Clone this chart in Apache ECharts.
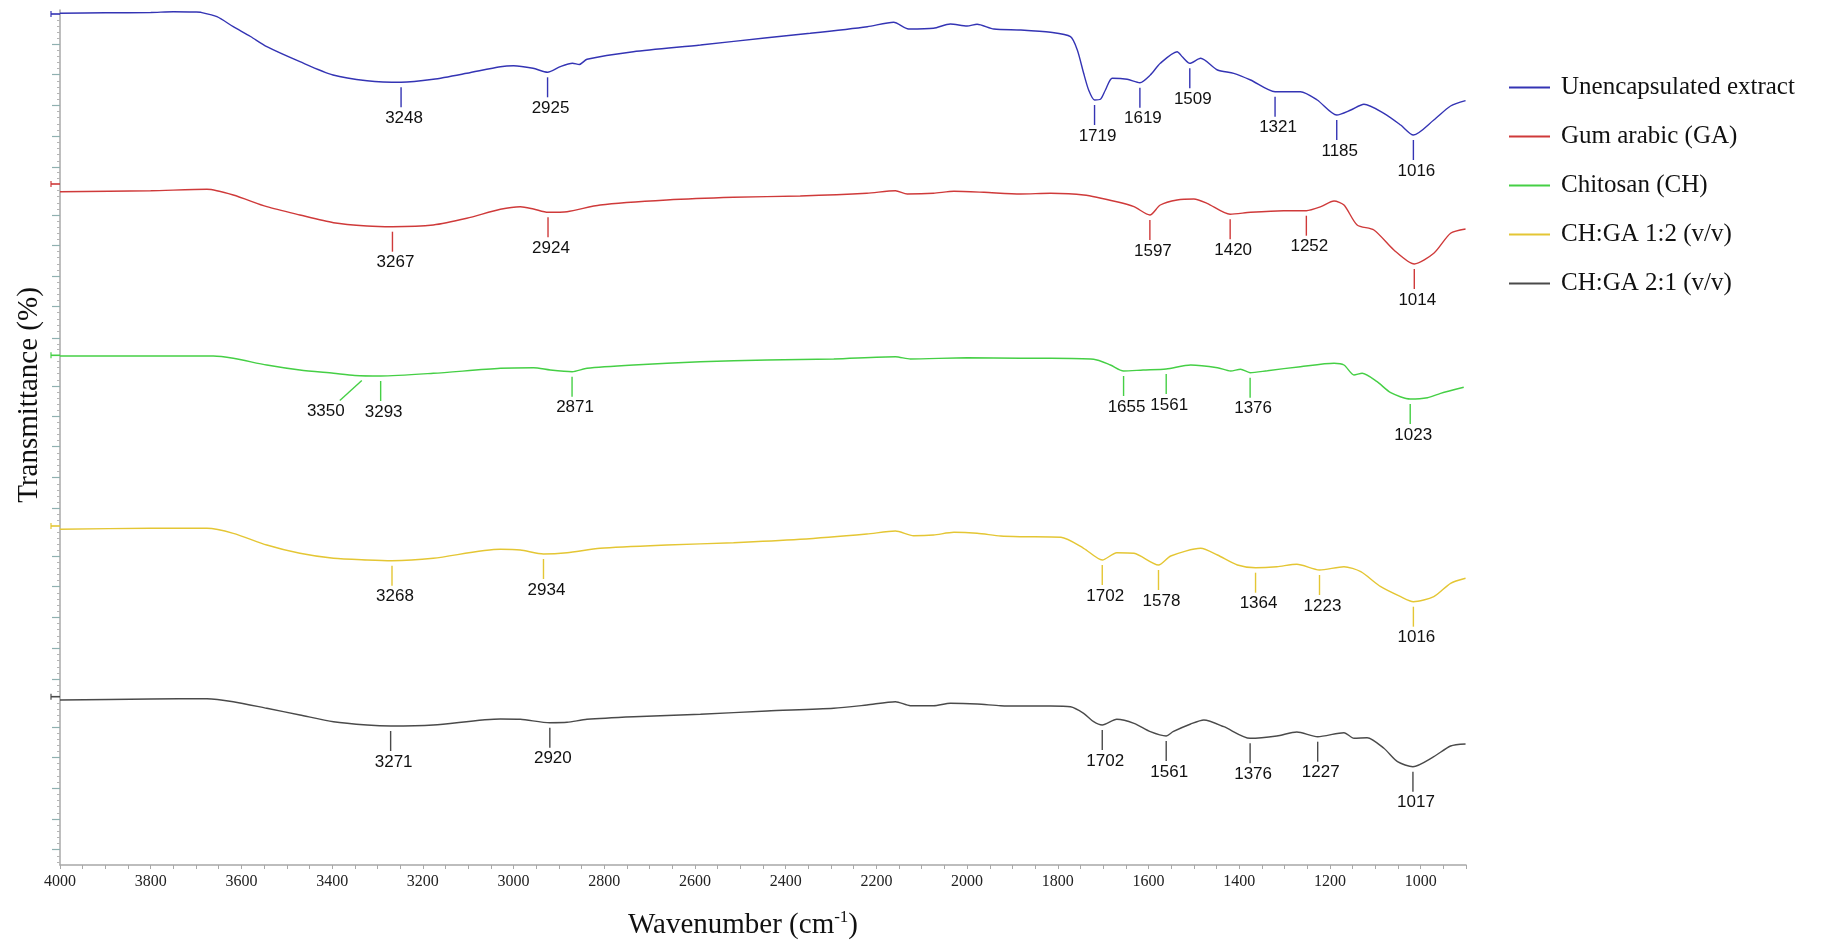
<!DOCTYPE html>
<html>
<head>
<meta charset="utf-8">
<script src="https://cdn.jsdelivr.net/npm/echarts@6/dist/echarts.min.js"></script>
<style>
html,body{margin:0;padding:0;background:#fff;}
#chart{width:1828px;height:944px;}
</style>
</head>
<body>
<div id="chart"></div>
<script>
// ---- Data (wavenumber cm-1, offset transmittance in stacked display units) ----
const seriesNames = ['Unencapsulated extract', 'Gum arabic (GA)', 'Chitosan (CH)', 'CH:GA 1:2 (v/v)', 'CH:GA 2:1 (v/v)'];
const seriesColors = ['#3434b4', '#cf3a3a', '#45cf45', '#e4c634', '#4a4a4a'];

const extractSpectrum = [[4000,851.7],[3900,852.2],[3800,852.5],[3750,853.3],[3700,853],[3690,852.7],[3654,848.3],[3618,838.3],[3580,828.5],[3544,818.3],[3471,803.3],[3398,790],[3323,784.3],[3248,782.7],[3177,785.7],[3103,791.7],[3029,798.3],[3000,799.3],[2957,796.7],[2925,792.7],[2897,798.3],[2870,801.7],[2855,800.5],[2838,805.7],[2736,813.3],[2588,820],[2441,827.3],[2346,831.7],[2220,838.3],[2162,842.7],[2129,836],[2074,836.7],[2037,841],[2000,839],[1978,840.7],[1941,836],[1882,835],[1816,832.7],[1772,828.3],[1757,815],[1743,791.7],[1732,775],[1719,765],[1706,765.7],[1695,775],[1680,786.7],[1647,785.7],[1619,782.3],[1596,790],[1574,801.7],[1537,813.3],[1525,808],[1509,801.7],[1485,806.7],[1448,795],[1412,791.7],[1375,785],[1321,773.3],[1265,773.3],[1228,765],[1185,750],[1154,755],[1125,760.7],[1081,751.7],[1044,740],[1016,730],[971,745],[934,759],[901,764.3]];
const gumArabicSpectrum = [[4000,673.3],[3800,674.3],[3676,675.7],[3618,670],[3544,658.3],[3471,650],[3397,642.3],[3323,639],[3267,638.3],[3177,640],[3103,646.7],[3029,655.7],[2985,658.3],[2956,656],[2924,652.7],[2882,653.3],[2809,660],[2662,665],[2515,667.7],[2368,669],[2221,671.7],[2158,674.3],[2132,671],[2074,671.7],[2029,673.7],[1963,672.7],[1882,671],[1816,671.7],[1743,670],[1670,663.3],[1632,658.3],[1597,650],[1574,660],[1537,665],[1500,666],[1471,661.7],[1420,650.7],[1375,652.7],[1302,654.3],[1252,654.3],[1220,658.3],[1191,664],[1169,660],[1140,640],[1103,635],[1059,615],[1014,601],[971,611.7],[934,631.7],[901,636]];
const chitosanSpectrum = [[4000,509],[3800,509],[3662,509],[3618,506.7],[3544,500],[3471,495],[3397,491.7],[3350,489.5],[3293,489],[3177,491.7],[3029,496.7],[2956,497.3],[2919,495],[2871,493.3],[2838,496.7],[2735,500],[2588,503.3],[2441,505],[2294,506],[2158,508.3],[2125,506],[2000,507.3],[1882,506.7],[1816,506.7],[1721,505.7],[1684,500],[1655,494],[1612,495],[1561,496],[1507,500],[1448,497.3],[1419,494],[1397,495.7],[1376,492.3],[1338,494.3],[1265,498.3],[1191,501.7],[1169,500],[1147,490],[1129,491.7],[1096,483.3],[1066,472.3],[1023,466],[985,467.3],[956,471.7],[905,477.7]];
const chga12Spectrum = [[4000,335.7],[3800,336.7],[3676,336.7],[3618,331.7],[3544,320],[3471,311.7],[3397,306.7],[3323,305],[3268,304.3],[3177,306.7],[3029,315.7],[2985,315],[2934,311],[2882,312.3],[2809,316.7],[2662,320],[2515,322.3],[2368,325.7],[2221,331],[2158,334],[2118,329.3],[2074,330],[2029,332.7],[1978,331.7],[1926,329],[1882,328.3],[1793,327.7],[1743,316.7],[1702,305],[1670,312.3],[1632,311.7],[1578,300],[1551,309],[1485,316.7],[1448,310],[1404,300],[1364,297.3],[1317,298.3],[1273,300.7],[1223,295],[1169,298.3],[1132,293.3],[1088,278.3],[1044,268.3],[1016,263.3],[971,268.3],[934,281.7],[901,286.7]];
const chga21Spectrum = [[4000,165],[3800,166],[3676,166.3],[3618,163.3],[3544,156.7],[3471,150],[3397,143.3],[3323,140],[3271,139],[3177,140],[3029,146],[2985,145.7],[2920,142.3],[2882,142.7],[2838,145.7],[2735,148.3],[2588,150.7],[2441,154],[2294,156.7],[2221,160],[2158,163.3],[2125,159.3],[2074,159.3],[2037,161.7],[1978,161],[1926,159.3],[1882,159],[1816,159],[1772,158.3],[1743,151.7],[1721,143.3],[1702,140],[1670,145.7],[1632,141.7],[1596,133.3],[1561,129],[1546,133.3],[1507,141],[1478,145],[1434,138.3],[1376,126.7],[1317,129],[1273,133],[1227,128.3],[1169,132.3],[1147,126.7],[1118,127.3],[1081,116.7],[1051,103.3],[1017,98.3],[971,108.3],[934,119],[901,121]];

// Annotated peaks (wavenumbers)
const extractPeaks = [3248, 2925, 1719, 1619, 1509, 1321, 1185, 1016];
const gumArabicPeaks = [3267, 2924, 1597, 1420, 1252, 1014];
const chitosanPeaks = [3350, 3293, 2871, 1655, 1561, 1376, 1023];
const chga12Peaks = [3268, 2934, 1702, 1578, 1364, 1223, 1016];
const chga21Peaks = [3271, 2920, 1702, 1561, 1376, 1227, 1017];

// y-axis tick positions (stacked display units) and per-spectrum baseline markers
const yMajorTicks = [820.7, 790.3, 759.7, 728.7, 698, 649.7, 619.7, 588.7, 559, 527, 479, 449, 418.3, 387.3, 356.3, 308.3, 278.3, 247.7, 216.7, 185.7, 137.3, 107.7, 76.7, 46, 15.3];
const baselineMarkers = [851, 681, 509.7, 339, 168.3];
const xLabelValues = [1000, 1200, 1400, 1600, 1800, 2000, 2200, 2400, 2600, 2800, 3000, 3200, 3400, 3600, 3800, 4000];

// ---- Layout (not data) ----
const labelShift = { 'Chitosan (CH)': { 3350: -32 } };

const spectra = [extractSpectrum, gumArabicSpectrum, chitosanSpectrum, chga12Spectrum, chga21Spectrum];
const peaks = [extractPeaks, gumArabicPeaks, chitosanPeaks, chga12Peaks, chga21Peaks];

// minor ticks: subdivisions between consecutive major ticks
const allMajor = yMajorTicks.concat(baselineMarkers).sort((a, b) => a - b);
const yMinorTicks = [];
for (let i = 0; i < allMajor.length - 1; i++) {
  const a = allMajor[i], b = allMajor[i + 1];
  const n = Math.max(1, Math.round((b - a) / 6.1));
  for (let k = 1; k < n; k++) yMinorTicks.push(a + (b - a) * k / n);
}
{
  const a = allMajor[0];
  for (let k = 1; a - k * 6.1 > 1; k++) yMinorTicks.push(a - k * 6.1);
}

const series = [];
seriesNames.forEach((name, i) => {
  series.push({
    name: name,
    type: 'line',
    data: spectra[i],
    showSymbol: false,
    symbol: 'none',
    smooth: 0.25,
    lineStyle: { color: seriesColors[i], width: 1.4 },
    itemStyle: { color: seriesColors[i] },
    z: 3,
    silent: true
  });
  const lookup = {};
  spectra[i].forEach(p => { lookup[p[0]] = p[1]; });
  const shift = labelShift[name] || {};
  series.push({
    name: name + ' peaks',
    type: 'custom',
    coordinateSystem: 'cartesian2d',
    clip: false,
    silent: true,
    z: 4,
    data: peaks[i].map(w => [w, lookup[w]]),
    encode: { x: 0, y: 1 },
    renderItem: function (params, api) {
      const w = api.value(0);
      const p = api.coord([w, api.value(1)]);
      const dx = shift[w] || 0;
      const x1 = dx ? p[0] + 7 : p[0];
      const x2 = dx ? p[0] + dx + 17 : p[0];
      return {
        type: 'group',
        children: [
          { type: 'line', shape: { x1: x1, y1: p[1] + 5, x2: x2, y2: p[1] + 25 },
            style: { stroke: seriesColors[i], lineWidth: 1.4 } },
          { type: 'text', x: p[0] + dx + 3, y: p[1] + 36,
            style: { text: String(w), fill: '#111', font: '17px "Liberation Sans", Arial, sans-serif',
                     align: 'center', verticalAlign: 'middle' } }
        ]
      };
    }
  });
});

// coloured baseline markers on the y axis
series.push({
  name: 'baseline markers',
  type: 'custom',
  coordinateSystem: 'cartesian2d',
  clip: false,
  silent: true,
  data: baselineMarkers.map(v => [4000, v]),
  encode: { x: 0, y: 1 },
  renderItem: function (params, api) {
    const p = api.coord([api.value(0), api.value(1)]);
    const c = seriesColors[params.dataIndex];
    return {
      type: 'group',
      children: [
        { type: 'line', shape: { x1: p[0] - 9, y1: p[1], x2: p[0], y2: p[1] }, style: { stroke: c, lineWidth: 1.6 } },
        { type: 'line', shape: { x1: p[0] - 9, y1: p[1] - 3, x2: p[0] - 9, y2: p[1] + 3 }, style: { stroke: c, lineWidth: 1.2 } }
      ]
    };
  }
});

const chart = echarts.init(document.getElementById('chart'), null, { renderer: 'canvas' });
chart.setOption({
  animation: false,
  backgroundColor: '#ffffff',
  grid: { left: 60, right: 362, top: 10, bottom: 79, containLabel: false },
  legend: {
    data: seriesNames,
    orient: 'vertical',
    left: 1504,
    top: 70,
    icon: 'rect',
    itemWidth: 41,
    itemHeight: 2,
    itemGap: 24,
    textStyle: { fontFamily: '"Liberation Serif", "Times New Roman", serif', fontSize: 25, color: '#111', padding: [0, 0, 0, 6] }
  },
  xAxis: {
    type: 'value',
    inverse: true,
    min: 900,
    max: 4000,
    interval: 50,
    axisLine: { show: true, lineStyle: { color: '#a8a8a8', width: 1.5 } },
    axisTick: { show: true, length: 4, lineStyle: { color: '#a8a8a8' } },
    splitLine: { show: false },
    axisLabel: {
      margin: 9,
      color: '#222',
      fontFamily: '"Liberation Serif", "Times New Roman", serif',
      fontSize: 16,
      formatter: v => (xLabelValues.indexOf(v) >= 0 ? String(v) : '')
    }
  },
  yAxis: [
    {
      type: 'value', min: 0, max: 855, position: 'left', offset: 0,
      axisLine: { show: true, lineStyle: { color: '#a8a8a8', width: 1.5 } },
      axisTick: { show: true, length: 8, inside: false, customValues: yMajorTicks, lineStyle: { color: '#8fb0b0', width: 1.2 } },
      axisLabel: { show: false },
      splitLine: { show: false }
    },
    {
      type: 'value', min: 0, max: 855, position: 'left', offset: 0,
      axisLine: { show: false },
      axisTick: { show: true, length: 3, inside: false, customValues: yMinorTicks, lineStyle: { color: '#b5b5b5', width: 1 } },
      axisLabel: { show: false },
      splitLine: { show: false }
    }
  ],
  graphic: [
    {
      type: 'text', x: 743, y: 925,
      style: {
        text: 'Wavenumber (cm{sup|-1})',
        font: '29px "Liberation Serif", "Times New Roman", serif',
        fill: '#111', align: 'center', verticalAlign: 'middle',
        rich: { sup: { fontSize: 17, fontFamily: '"Liberation Serif", serif', fill: '#111', padding: [0, 0, 14, 0] } }
      }
    },
    {
      type: 'text', x: 29, y: 395, rotation: Math.PI / 2,
      style: {
        text: 'Transmittance (%)',
        font: '29px "Liberation Serif", "Times New Roman", serif',
        fill: '#111', align: 'center', verticalAlign: 'middle'
      }
    }
  ],
  series: series
});
</script>
</body>
</html>
